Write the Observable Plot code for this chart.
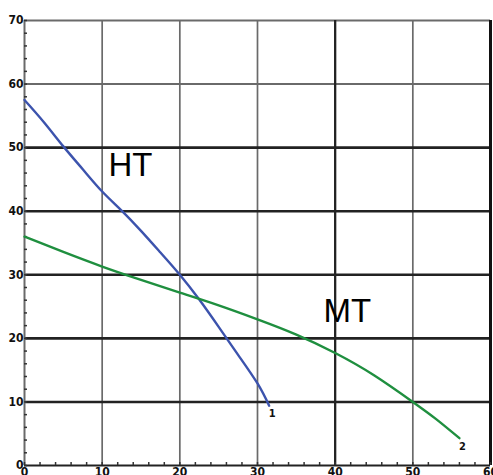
<!DOCTYPE html>
<html>
<head>
<meta charset="utf-8">
<script src="https://cdn.jsdelivr.net/npm/d3@7"></script>
<script src="https://cdn.jsdelivr.net/npm/@observablehq/plot@0.6"></script>
<style>
  html, body { margin: 0; padding: 0; background: white; }
  #chart svg { display: block; }
</style>
</head>
<body>
<div id="chart"></div>
<script>
// Curve HT (series 1)
const htFlow = [0, 2.5, 5, 7.5, 10, 12.5, 15, 17.5, 20, 22.5, 25, 27.5, 30, 31.5];
const htHead = [57.5, 54, 50.2, 46.6, 43.1, 40.1, 36.9, 33.5, 30, 26.1, 21.8, 17.4, 12.9, 9.4];
// Curve MT (series 2)
const mtFlow = [0, 5, 10, 15, 20, 25, 30, 35, 40, 45, 50, 53, 56];
const mtHead = [36, 33.6, 31.3, 29.2, 27.2, 25.2, 23, 20.6, 17.7, 14.2, 10, 7.3, 4.3];
// Axis ticks
const xTicks = [0, 10, 20, 30, 40, 50, 60];
const yTicks = [0, 10, 20, 30, 40, 50, 60, 70];
const xMinor = d3.range(0, 61, 2);
const yMinor = d3.range(0, 71, 2);
// Labels
const curveNames = ["HT", "MT"];
const curveNamePos = [[10.8, 45.6], [38.5, 22.6]];
const endMarks = ["1", "2"];

const ht = htFlow.map((x, i) => ({x, y: htHead[i]}));
const mt = mtFlow.map((x, i) => ({x, y: mtHead[i]}));
const names = curveNames.map((t, i) => ({t, x: curveNamePos[i][0], y: curveNamePos[i][1]}));
const ends = [ {t: endMarks[0], ...ht[ht.length - 1]}, {t: endMarks[1], ...mt[mt.length - 1]} ];

const W = 493, H = 475, mL = 24, mR = 3, mT = 20, mB = 10;
const pw = W - mL - mR, ph = H - mT - mB;

const dark = [10, 20, 30, 40, 50];
const light = [60, 70];
const vLight = [10, 20, 30, 50];
const tickFont = "DejaVu Sans Condensed, DejaVu Sans, sans-serif";

const chart = Plot.plot({
  width: W, height: H,
  marginLeft: mL, marginRight: mR, marginTop: mT, marginBottom: mB,
  x: {domain: [0, 60], label: null},
  y: {domain: [0, 70], label: null},
  style: {background: "white", overflow: "hidden"},
  marks: [
    // gridlines
    Plot.ruleY(light, {y: d => d, stroke: "#6a6a6a", strokeWidth: 2}),
    Plot.ruleX(vLight, {x: d => d, stroke: "#6a6a6a", strokeWidth: 1.7}),
    Plot.ruleX([40], {x: d => d, stroke: "#222", strokeWidth: 2.3}),
    Plot.ruleY(dark, {y: d => d, stroke: "#222", strokeWidth: 2.6}),
    Plot.ruleX([0], {x: d => d, stroke: "#6a6a6a", strokeWidth: 2}),
    Plot.ruleX([60], {x: d => d, stroke: "#111", strokeWidth: 3}),
    Plot.ruleY([0], {y: d => d, stroke: "#222", strokeWidth: 2.2}),
    // minor ticks
    Plot.tickX(xMinor, {x: d => d, insetTop: ph - 3, stroke: "#333", strokeWidth: 1.5}),
    Plot.tickY(yMinor, {y: d => d, insetRight: pw - 3, stroke: "#333", strokeWidth: 1.5}),
    // axes labels
    Plot.axisY({ticks: yTicks, label: null, tickSize: 0, tickPadding: 1, fontSize: 12, fontWeight: "bold",
      fontFamily: tickFont, fill: "#111"}),
    Plot.axisX({ticks: xTicks, label: null, tickSize: 0, tickPadding: 2, fontSize: 12, fontWeight: "bold",
      fontFamily: tickFont, fill: "#111"}),
    // curves
    Plot.line(ht, {x: "x", y: "y", stroke: "#3c53ad", strokeWidth: 2.4, curve: "natural"}),
    Plot.line(mt, {x: "x", y: "y", stroke: "#1f8f3f", strokeWidth: 2.4, curve: "natural"}),
    // end marks
    Plot.text(ends, {x: "x", y: "y", text: "t", dx: 3, dy: 8, fontSize: 11, fontWeight: "bold",
      fontFamily: tickFont, fill: "#111"}),
    // curve names
    Plot.text(names, {x: "x", y: "y", text: "t", textAnchor: "start", lineAnchor: "bottom", fontSize: 33,
      fontFamily: "Liberation Sans, Arial, sans-serif", fill: "#000"})
  ]
});
document.getElementById("chart").append(chart);
</script>
</body>
</html>
